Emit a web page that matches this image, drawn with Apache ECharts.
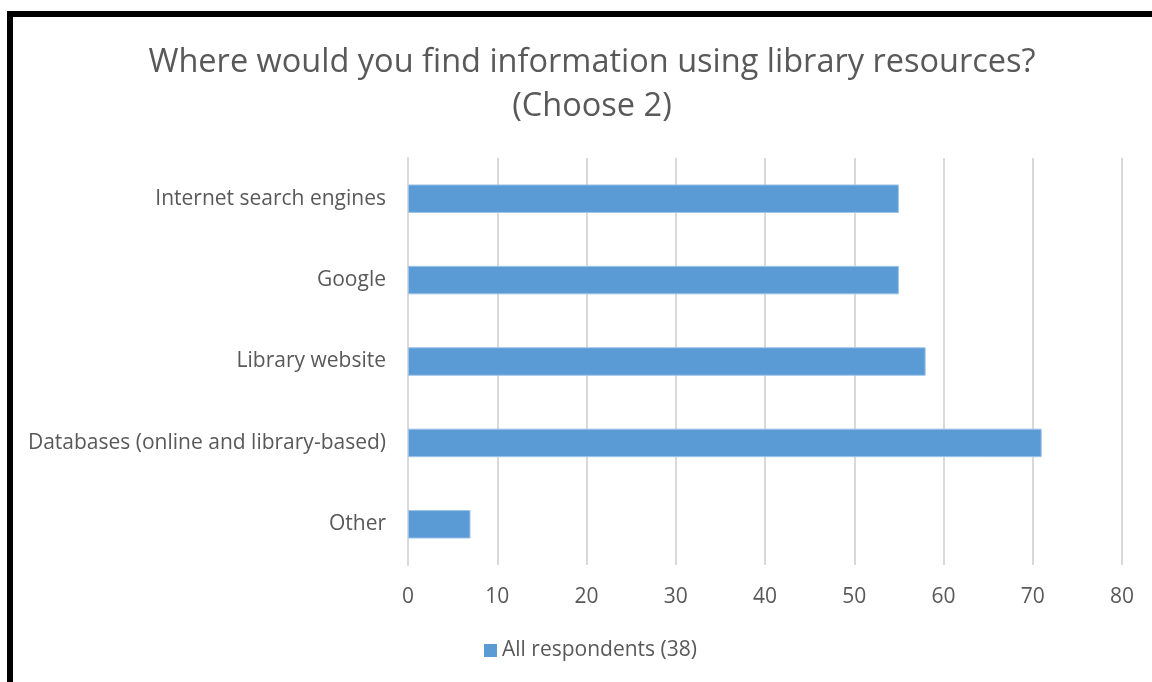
<!DOCTYPE html>
<html>
<head>
<meta charset="utf-8">
<script src="https://cdn.jsdelivr.net/npm/echarts@6/dist/echarts.min.js"></script>
<style>
  html, body { margin: 0; padding: 0; background: #fff; }
  #chart { width: 1152px; height: 682px; }
</style>
</head>
<body>
<div id="chart"></div>
<script>
// Survey answers, top to bottom
const categories = [
  'Internet search engines',
  'Google',
  'Library website',
  'Databases (online and library-based)',
  'Other'
];
const respondents = [55, 55, 58, 71, 7];
const seriesName = 'All respondents (38)';
const titleText = 'Where would you find information using library resources?\n(Choose 2)';

const textColor = '#595959';
const barColor = '#5B9BD5';
const fontFamily = '"Open Sans", "Noto Sans", sans-serif';

const chart = echarts.init(document.getElementById('chart'), null, { renderer: 'canvas' });

chart.setOption({
  backgroundColor: '#ffffff',
  animation: false,
  title: {
    text: titleText,
    left: 587,
    top: 36,
    textAlign: 'center',
    textStyle: {
      color: textColor,
      fontFamily: fontFamily,
      fontSize: 32.5,
      fontWeight: 'normal',
      lineHeight: 44
    }
  },
  legend: {
    data: [seriesName],
    left: 479,
    top: 635,
    itemWidth: 13,
    itemHeight: 13,
    itemGap: 6,
    icon: 'rect',
    itemStyle: { borderWidth: 0 },
    textStyle: { color: textColor, fontFamily: fontFamily, fontSize: 21 }
  },
  grid: {
    left: 408,
    right: 30,
    top: 158,
    bottom: 117,
    containLabel: false
  },
  xAxis: {
    type: 'value',
    min: 0,
    max: 80,
    interval: 10,
    axisLine: { show: false },
    axisTick: { show: false },
    splitLine: { show: true, lineStyle: { color: '#d9d9d9', width: 2 } },
    axisLabel: {
      color: textColor,
      fontFamily: fontFamily,
      fontSize: 21,
      margin: 22
    }
  },
  yAxis: {
    type: 'category',
    data: categories,
    inverse: true,
    axisLine: { show: true, lineStyle: { color: '#d9d9d9', width: 2 } },
    axisTick: { show: false },
    axisLabel: {
      color: textColor,
      fontFamily: fontFamily,
      fontSize: 21,
      margin: 22
    }
  },
  series: [{
    name: seriesName,
    type: 'bar',
    data: respondents,
    barWidth: '35%',
    itemStyle: { color: barColor, borderColor: '#9cc3e8', borderWidth: 1 }
  }],
  graphic: [
    { type: 'rect', shape: { x: 7, y: 11, width: 1145, height: 6 }, style: { fill: '#000' }, silent: true },
    { type: 'rect', shape: { x: 7, y: 11, width: 6, height: 671 }, style: { fill: '#000' }, silent: true }
  ]
});
</script>
</body>
</html>
